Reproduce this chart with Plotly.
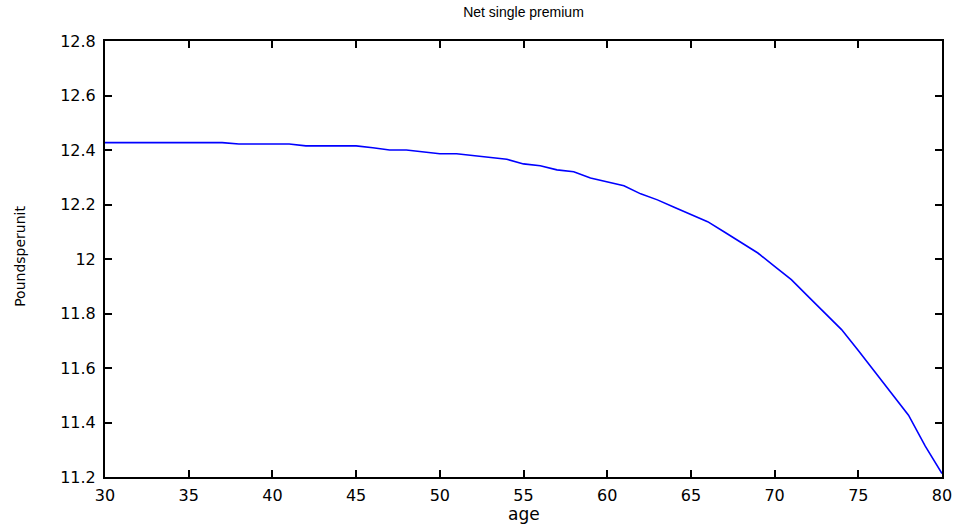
import plotly.graph_objects as go

ages = list(range(30, 81))
premium = [
    12.427, 12.427, 12.427, 12.427, 12.427, 12.427, 12.427, 12.427,  # 30-37
    12.422, 12.422, 12.422, 12.422,                                  # 38-41
    12.415, 12.415, 12.415, 12.415,                                  # 42-45
    12.408, 12.400, 12.400, 12.393,                                  # 46-49
    12.386, 12.386, 12.380, 12.373, 12.366,                          # 50-54
    12.349, 12.342, 12.327, 12.320, 12.297,                          # 55-59
    12.284, 12.269, 12.239, 12.217, 12.190,                          # 60-64
    12.163, 12.137, 12.099, 12.061, 12.022,                          # 65-69
    11.973, 11.924, 11.863, 11.802, 11.741,                          # 70-74
    11.664, 11.585, 11.506, 11.427, 11.313,                          # 75-79
    11.213,                                                          # 80
]

x_ticks = [30, 35, 40, 45, 50, 55, 60, 65, 70, 75, 80]
y_ticks = [11.2, 11.4, 11.6, 11.8, 12.0, 12.2, 12.4, 12.6, 12.8]
y_tick_labels = ["11.2", "11.4", "11.6", "11.8", "12", "12.2", "12.4", "12.6", "12.8"]

W, H = 959, 527
L, R, T, B = 105, 17, 41, 49.5

fig = go.Figure()
fig.add_trace(go.Scatter(x=ages, y=premium, mode="lines",
                         line=dict(color="#0000ff", width=1.6),
                         showlegend=False, hoverinfo="x+y"))

tick_font = dict(family="DejaVu Sans, sans-serif", size=16, color="black")
axis_common = dict(
    showline=True, linecolor="black", linewidth=2, mirror="ticks",
    ticks="inside", ticklen=7, tickwidth=1.5, tickcolor="black",
    showgrid=False, zeroline=False, automargin=False,
    tickfont=tick_font,
)

fig.update_layout(
    width=W, height=H,
    margin=dict(l=L, r=R, t=T, b=B),
    paper_bgcolor="white", plot_bgcolor="white",
    title=dict(text="Net single premium", x=0.5, xref="paper", xanchor="center",
               y=1 - 12 / H, yref="container", yanchor="middle",
               font=dict(family="Liberation Sans, Arial, sans-serif", size=14, color="black")),
    xaxis=dict(range=[30, 80], tickvals=x_ticks, ticklabelstandoff=3, **axis_common),
    yaxis=dict(range=[11.2, 12.8], tickvals=y_ticks, ticktext=y_tick_labels,
               ticklabelstandoff=4, **axis_common),
    annotations=[
        dict(text="age", xref="paper", yref="paper",
             x=0.5, y=-(515 - (H - B)) / (H - T - B), xanchor="center", yanchor="middle",
             showarrow=False,
             font=dict(family="DejaVu Sans, sans-serif", size=17, color="black")),
        dict(text="Poundsperunit", xref="paper", yref="paper",
             x=-(L - 20) / (W - L - R), y=0.505, xanchor="center", yanchor="middle",
             textangle=-90, showarrow=False,
             font=dict(family="DejaVu Sans, sans-serif", size=14, color="black")),
    ],
)

fig.write_html("out.html", config={"displayModeBar": False},
               post_script="document.body.style.margin='0px';")
